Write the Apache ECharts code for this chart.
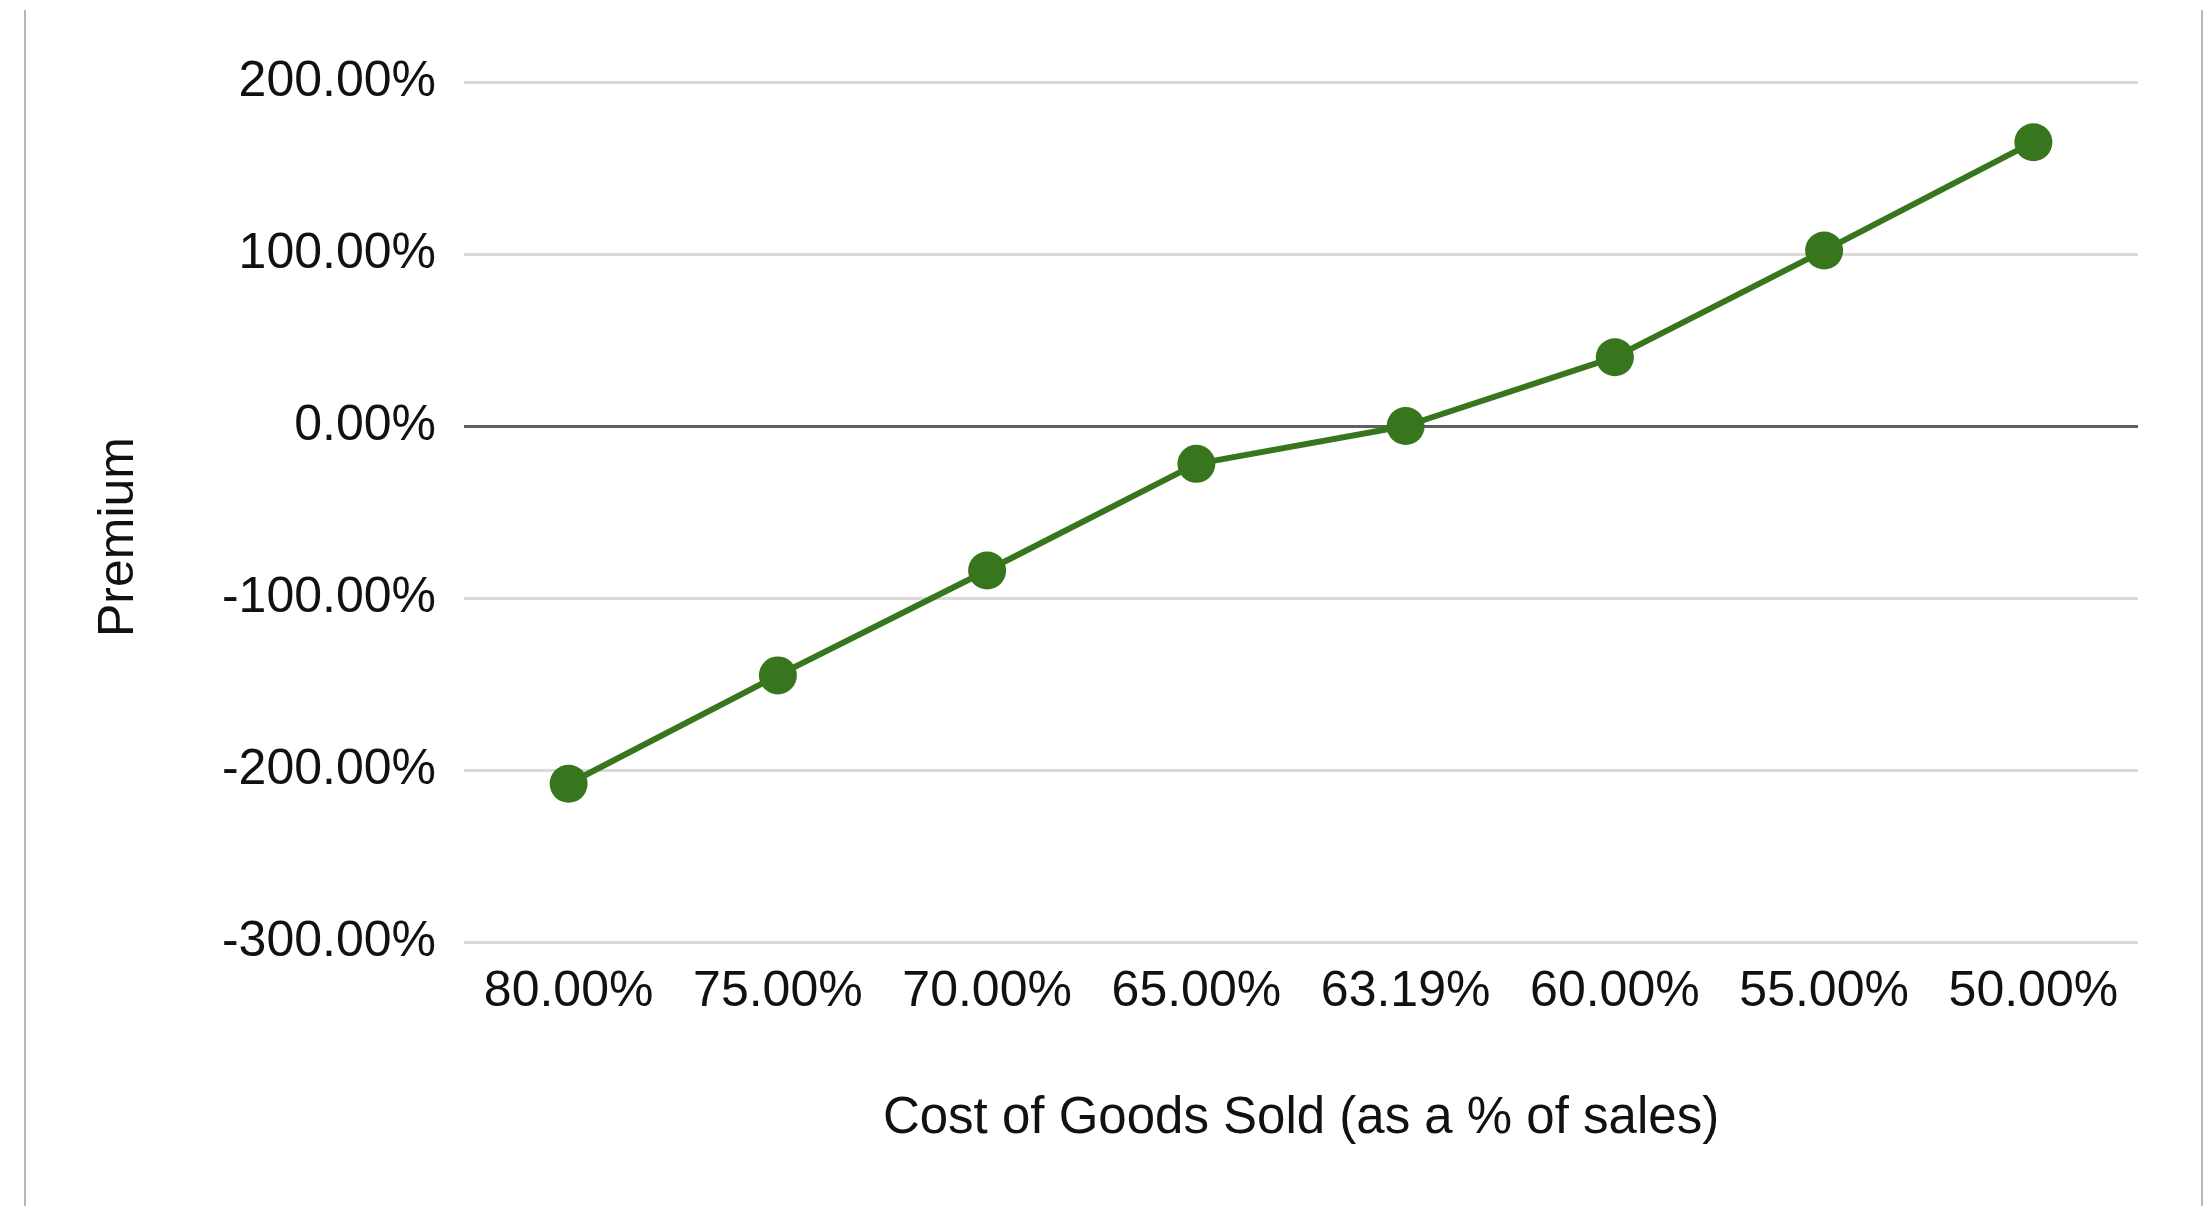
<!DOCTYPE html>
<html>
<head>
<meta charset="utf-8">
<script src="https://cdn.jsdelivr.net/npm/echarts@6/dist/echarts.min.js"></script>
<style>
html,body{margin:0;padding:0;background:#fff;}
#chart{width:2205px;height:1206px;}
</style>
</head>
<body>
<div id="chart"></div>
<script>
var categories = ['80.00%', '75.00%', '70.00%', '65.00%', '63.19%', '60.00%', '55.00%', '50.00%'];
var premium = [-208, -145, -84, -22, 0, 40, 102, 165];
var yTicks = [-300, -200, -100, 0, 100, 200];
var xAxisTitle = 'Cost of Goods Sold (as a % of sales)';
var yAxisTitle = 'Premium';

var font = 'Liberation Sans, Arial, sans-serif';
var chart = echarts.init(document.getElementById('chart'));
var gridColors = yTicks.map(function (t) { return t === 0 ? '#5f5f5f' : '#d9d9d9'; });

chart.setOption({
  backgroundColor: '#ffffff',
  animation: false,
  grid: { left: 464, right: 67, top: 82, bottom: 264 },
  graphic: [
    { type: 'line', shape: { x1: 25, y1: 10, x2: 25, y2: 1206 }, style: { stroke: '#b7b7b7', lineWidth: 2 } },
    { type: 'line', shape: { x1: 2202, y1: 10, x2: 2202, y2: 1206 }, style: { stroke: '#b7b7b7', lineWidth: 2 } }
  ],
  xAxis: {
    type: 'category',
    data: categories,
    boundaryGap: true,
    axisLine: { show: false },
    axisTick: { show: false },
    axisLabel: { color: '#111', fontSize: 50, fontFamily: font, margin: 25, interval: 0 },
    name: xAxisTitle,
    nameLocation: 'middle',
    nameGap: 151,
    nameTextStyle: { color: '#111', fontSize: 51, fontFamily: font }
  },
  yAxis: {
    type: 'value',
    min: yTicks[0],
    max: yTicks[yTicks.length - 1],
    interval: 100,
    axisLine: { show: false },
    axisTick: { show: false },
    axisLabel: {
      color: '#111', fontSize: 50, fontFamily: font, margin: 28,
      formatter: function (v) { return v.toFixed(2) + '%'; }
    },
    splitLine: { show: true, lineStyle: { color: gridColors, width: 3 } },
    name: yAxisTitle,
    nameLocation: 'middle',
    nameGap: 320,
    nameTextStyle: { color: '#111', fontSize: 50, fontFamily: font, padding: [0, 50, 0, 0] }
  },
  series: [{
    type: 'line',
    data: premium,
    symbol: 'circle',
    symbolSize: 38,
    lineStyle: { color: '#38761d', width: 6 },
    itemStyle: { color: '#38761d' }
  }]
});
</script>
</body>
</html>
